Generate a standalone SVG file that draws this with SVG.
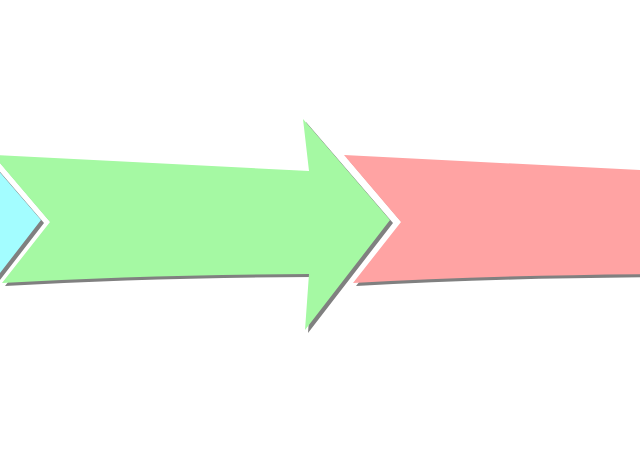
<svg xmlns="http://www.w3.org/2000/svg" xmlns:xlink="http://www.w3.org/1999/xlink" width="640" height="452" viewBox="0 0 640 452">
  <style>
    .shadow { fill: #808080; }
    .cyan { fill: #a3fdff; }
    .green { fill: #a5f9a3; }
    .red { fill: #ffa3a3; }
  </style>
  <defs>
    <path id="arrowShape" d="M -7,155 L 309,171 L 303,119 L 390,220 L 305,330 L 309,274 Q 140,275 2,283 L 50,222 Z"/>
    <filter id="soft" x="-5%" y="-5%" width="110%" height="110%">
      <feGaussianBlur stdDeviation="0.6"/>
    </filter>
  </defs>
  <rect width="640" height="452" fill="#ffffff"/>
  <g id="arrow-cyan" transform="translate(-349,0)">
    <use xlink:href="#arrowShape" class="shadow" transform="translate(3,3)" filter="url(#soft)"/>
    <use xlink:href="#arrowShape" class="cyan"/>
  </g>
  <g id="arrow-green">
    <use xlink:href="#arrowShape" class="shadow" transform="translate(3,3)" filter="url(#soft)"/>
    <use xlink:href="#arrowShape" class="green"/>
  </g>
  <g id="arrow-red" transform="translate(351,0)">
    <use xlink:href="#arrowShape" class="shadow" transform="translate(3,3)" filter="url(#soft)"/>
    <use xlink:href="#arrowShape" class="red"/>
  </g>
  <g id="connectors"/>
</svg>
